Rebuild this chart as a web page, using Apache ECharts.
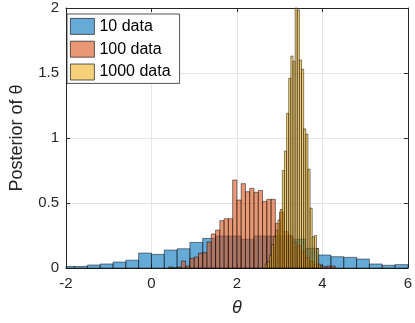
<!DOCTYPE html>
<html>
<head>
<meta charset="utf-8">
<script src="https://cdn.jsdelivr.net/npm/echarts@6/dist/echarts.min.js"></script>
<style>
html,body{margin:0;padding:0;background:#fff;}
#chart{width:415px;height:323px;}
</style>
</head>
<body>
<div id="chart"></div>
<script>
// ---- data ----
const seriesNames = ['10 data', '100 data', '1000 data'];
const xTickRange = [-2, 6];
const yTickRange = [0, 2];

// 10 data: bins of width 0.3 starting at -2.1
const blueBinStart = -2.1;
const blueBinWidth = 0.3;
const blueValues = [0.012, 0.012, 0.023, 0.031, 0.046, 0.06, 0.115, 0.105, 0.138, 0.148,
  0.197, 0.228, 0.246, 0.246, 0.221, 0.246, 0.246, 0.246, 0.222, 0.151,
  0.1, 0.087, 0.082, 0.069, 0.031, 0.021, 0.026];

// 100 data: bins of width 0.1 starting at 0.4
const orangeBinStart = 0.4;
const orangeBinWidth = 0.1;
const orangeValues = [0.008, 0, 0.008, 0.054, 0.015, 0.074, 0.085, 0.115, 0.118, 0.2,
  0.262, 0.292, 0.364, 0.379, 0.379, 0.677, 0.523, 0.649, 0.587, 0.613,
  0.582, 0.597, 0.513, 0.528, 0.528, 0.344, 0.43, 0.28, 0.25, 0.2,
  0.17, 0.13, 0.08, 0.05, 0.03, 0.02, 0.01, 0.015, 0.015];

// 1000 data: bins of width 0.05 starting at 2.6625
const yellowBinStart = 2.6625;
const yellowBinWidth = 0.05;
const yellowValues = [0.03, 0.05, 0.1, 0.18, 0.24, 0.29, 0.37, 0.45, 0.75, 0.9,
  1.19, 1.46, 1.63, 1.59, 2.0, 1.985, 1.6, 1.53, 1.07, 1.03,
  0.76, 0.46, 0.24, 0.25, 0.15, 0.03, 0.015];

// ---- build ----
function toBins(start, width, vals) {
  return vals.map((v, i) => [start + i * width, start + (i + 1) * width, v]);
}
const fills = ['rgba(0,114,189,0.6)', 'rgba(217,83,25,0.6)', 'rgba(237,177,32,0.6)'];
const legendFills = ['#66aad7', '#e89875', '#f4d079'];
const edge = 'rgba(0,0,0,0.8)';
const axisColor = '#262626';

function makeRender(fill) {
  return function (params, api) {
    const x0 = api.value(0), x1 = api.value(1), v = api.value(2);
    const p0 = api.coord([x0, v]);
    const p1 = api.coord([x1, 0]);
    const rect = echarts.graphic.clipRectByRect(
      { x: p0[0], y: p0[1], width: p1[0] - p0[0], height: p1[1] - p0[1] },
      { x: params.coordSys.x, y: params.coordSys.y, width: params.coordSys.width, height: params.coordSys.height }
    );
    if (!rect) return;
    return { type: 'rect', shape: rect, style: { fill: fill, stroke: edge, lineWidth: 0.6 } };
  };
}

const binSets = [
  toBins(blueBinStart, blueBinWidth, blueValues),
  toBins(orangeBinStart, orangeBinWidth, orangeValues),
  toBins(yellowBinStart, yellowBinWidth, yellowValues)
];

const font = 'Liberation Sans, Arial, Helvetica, sans-serif';
const chart = echarts.init(document.getElementById('chart'), null, { renderer: 'canvas' });

const baseX = {
  type: 'value', min: xTickRange[0], max: xTickRange[1], interval: 2,
  axisLine: { show: true, onZero: false, lineStyle: { color: axisColor, width: 1 } },
  axisTick: { show: true, inside: true, length: 4, lineStyle: { color: axisColor } }
};
const baseY = {
  type: 'value', min: yTickRange[0], max: yTickRange[1], interval: 0.5,
  axisLine: { show: true, onZero: false, lineStyle: { color: axisColor, width: 1 } },
  axisTick: { show: true, inside: true, length: 4, lineStyle: { color: axisColor } }
};

chart.setOption({
  animation: false,
  backgroundColor: '#fff',
  textStyle: { fontFamily: font },
  grid: { left: 59, right: 7, top: 8, bottom: 55, containLabel: false },
  legend: {
    orient: 'vertical', left: 67, top: 14,
    itemWidth: 24, itemHeight: 16, itemGap: 6,
    padding: [4, 9, 3, 3],
    borderColor: axisColor, borderWidth: 0.8, backgroundColor: '#fff',
    textStyle: { fontSize: 16, color: '#000', fontFamily: font },
    data: seriesNames.map((n, i) => ({
      name: n, icon: 'rect',
      itemStyle: { color: legendFills[i], borderColor: '#333', borderWidth: 0.8 }
    }))
  },
  xAxis: [
    Object.assign({}, baseX, {
      position: 'bottom',
      axisLabel: { fontSize: 15, color: axisColor, margin: 8, fontFamily: font },
      splitLine: { show: true, lineStyle: { color: '#e6e6e6', width: 1 } },
      name: 'θ', nameLocation: 'middle', nameGap: 31,
      nameTextStyle: { fontSize: 18, fontStyle: 'italic', color: axisColor, fontFamily: font }
    }),
    Object.assign({}, baseX, {
      position: 'top', axisLabel: { show: false }, splitLine: { show: false }
    })
  ],
  yAxis: [
    Object.assign({}, baseY, {
      position: 'left',
      axisLabel: { fontSize: 15, color: axisColor, margin: 7, fontFamily: font },
      splitLine: { show: true, lineStyle: { color: '#e6e6e6', width: 1 } },
      name: 'Posterior of θ', nameLocation: 'middle', nameGap: 40,
      nameTextStyle: { fontSize: 18, color: axisColor, fontFamily: font }
    }),
    Object.assign({}, baseY, {
      position: 'right', axisLabel: { show: false }, splitLine: { show: false }
    })
  ],
  series: binSets.map((bins, i) => ({
    name: seriesNames[i],
    type: 'custom',
    xAxisIndex: 0, yAxisIndex: 0,
    itemStyle: { color: fills[i] },
    renderItem: makeRender(fills[i]),
    encode: { x: [0, 1], y: 2 },
    data: bins,
    z: 2 + i
  }))
});
</script>
</body>
</html>
